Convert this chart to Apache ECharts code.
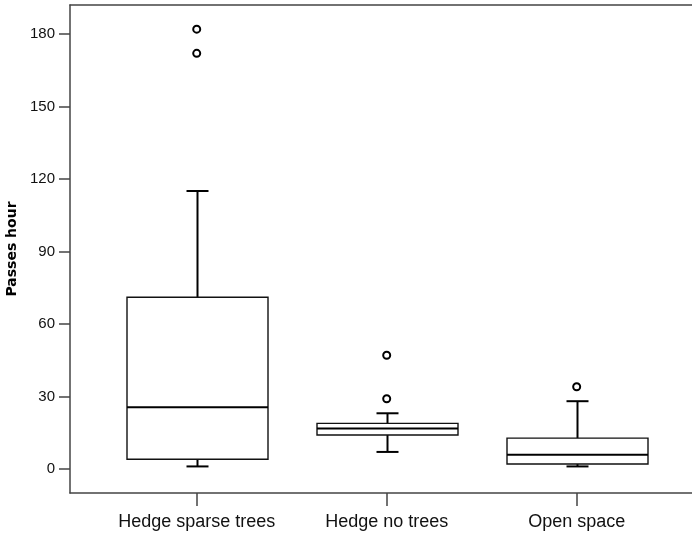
<!DOCTYPE html>
<html>
<head>
<meta charset="utf-8">
<script src="https://cdn.jsdelivr.net/npm/echarts@6/dist/echarts.min.js"></script>
<style>
html, body { margin: 0; padding: 0; background: #fff; }
#chart { width: 692px; height: 534px; }
</style>
</head>
<body>
<div id="chart"></div>
<script>
// categories and five-number summaries
var categories = ['Hedge sparse trees', 'Hedge no trees', 'Open space']
var lowWhisker = [1, 7, 1]
var q1 = [4, 14, 2]
var median = [25.5, 16.7, 5.8]
var q3 = [71, 18.8, 12.7]
var highWhisker = [115, 23, 28]
// outliers: [category index, value]
var outliers = [[0, 182], [0, 172], [1, 47], [1, 29], [2, 34]]
var yTicks = [0, 30, 60, 90, 120, 150, 180]
var xTicks = [0, 1, 2]

var boxData = categories.map(function(c, i) {
  return [i, lowWhisker[i], q1[i], median[i], q3[i], highWhisker[i]]
})

var chart = echarts.init(document.getElementById('chart'))

function renderBox(params, api) {
  var x = api.value(0)
  var pLow = api.coord([x, api.value(1)])
  var pQ1 = api.coord([x, api.value(2)])
  var pMed = api.coord([x, api.value(3)])
  var pQ3 = api.coord([x, api.value(4)])
  var pHigh = api.coord([x, api.value(5)])
  var cx = Math.round(pMed[0]) + 0.5
  var halfBox = 70.5
  var halfCap = 11
  var lineStyle = { stroke: '#000', lineWidth: 2 }
  return {
    type: 'group',
    children: [
      { type: 'line', shape: { x1: cx, y1: pQ3[1], x2: cx, y2: pHigh[1] }, style: lineStyle },
      { type: 'line', shape: { x1: cx - halfCap, y1: pHigh[1], x2: cx + halfCap, y2: pHigh[1] }, style: lineStyle },
      { type: 'line', shape: { x1: cx, y1: pQ1[1], x2: cx, y2: pLow[1] }, style: lineStyle },
      { type: 'line', shape: { x1: cx - halfCap, y1: pLow[1], x2: cx + halfCap, y2: pLow[1] }, style: lineStyle },
      {
        type: 'rect',
        shape: { x: cx - halfBox, y: pQ3[1], width: halfBox * 2, height: pQ1[1] - pQ3[1] },
        style: { fill: '#fff', stroke: '#111', lineWidth: 1.4 }
      },
      { type: 'line', shape: { x1: cx - halfBox, y1: pMed[1], x2: cx + halfBox, y2: pMed[1] }, style: lineStyle }
    ]
  }
}

var option = {
  animation: false,
  backgroundColor: '#fff',
  grid: { left: 70, right: 0, top: 5, bottom: 41, containLabel: false, outerBoundsMode: 'none' },
  xAxis: [
    {
      type: 'value',
      min: -0.667,
      max: 2.607,
      splitLine: { show: false },
      axisLine: { show: true, onZero: false, lineStyle: { color: '#444', width: 1.5 } },
      axisTick: { show: true, length: 13, customValues: xTicks, lineStyle: { color: '#444', width: 1.5 } },
      axisLabel: {
        customValues: xTicks,
        margin: 20,
        color: '#111',
        fontFamily: 'Liberation Sans',
        fontSize: 18,
        formatter: function(v) { return categories[Math.round(v)] }
      }
    },
    {
      type: 'value',
      position: 'top',
      min: -0.667,
      max: 2.607,
      splitLine: { show: false },
      axisLine: { show: true, onZero: false, lineStyle: { color: '#444', width: 1.5 } },
      axisTick: { show: false },
      axisLabel: { show: false }
    }
  ],
  yAxis: {
    type: 'value',
    min: -10,
    max: 192,
    name: 'Passes hour',
    nameLocation: 'middle',
    nameRotate: 90,
    nameGap: 48,
    nameTextStyle: { fontFamily: 'DejaVu Sans', fontWeight: 'bold', fontSize: 14, color: '#000' },
    splitLine: { show: false },
    axisLine: { show: true, onZero: false, lineStyle: { color: '#444', width: 1.5 } },
    axisTick: { show: true, length: 11, customValues: yTicks, lineStyle: { color: '#444', width: 1.5 } },
    axisLabel: {
      customValues: yTicks,
      margin: 15,
      color: '#111',
      fontFamily: 'Liberation Sans',
      fontSize: 15
    }
  },
  series: [
    {
      type: 'custom',
      renderItem: renderBox,
      data: boxData,
      encode: { x: 0, y: [1, 2, 3, 4, 5] },
      z: 2
    },
    {
      type: 'scatter',
      data: outliers,
      symbol: 'circle',
      symbolSize: 7,
      itemStyle: { color: '#fff', borderColor: '#000', borderWidth: 2, opacity: 1 },
      z: 3
    }
  ]
}

chart.setOption(option)
</script>
</body>
</html>
